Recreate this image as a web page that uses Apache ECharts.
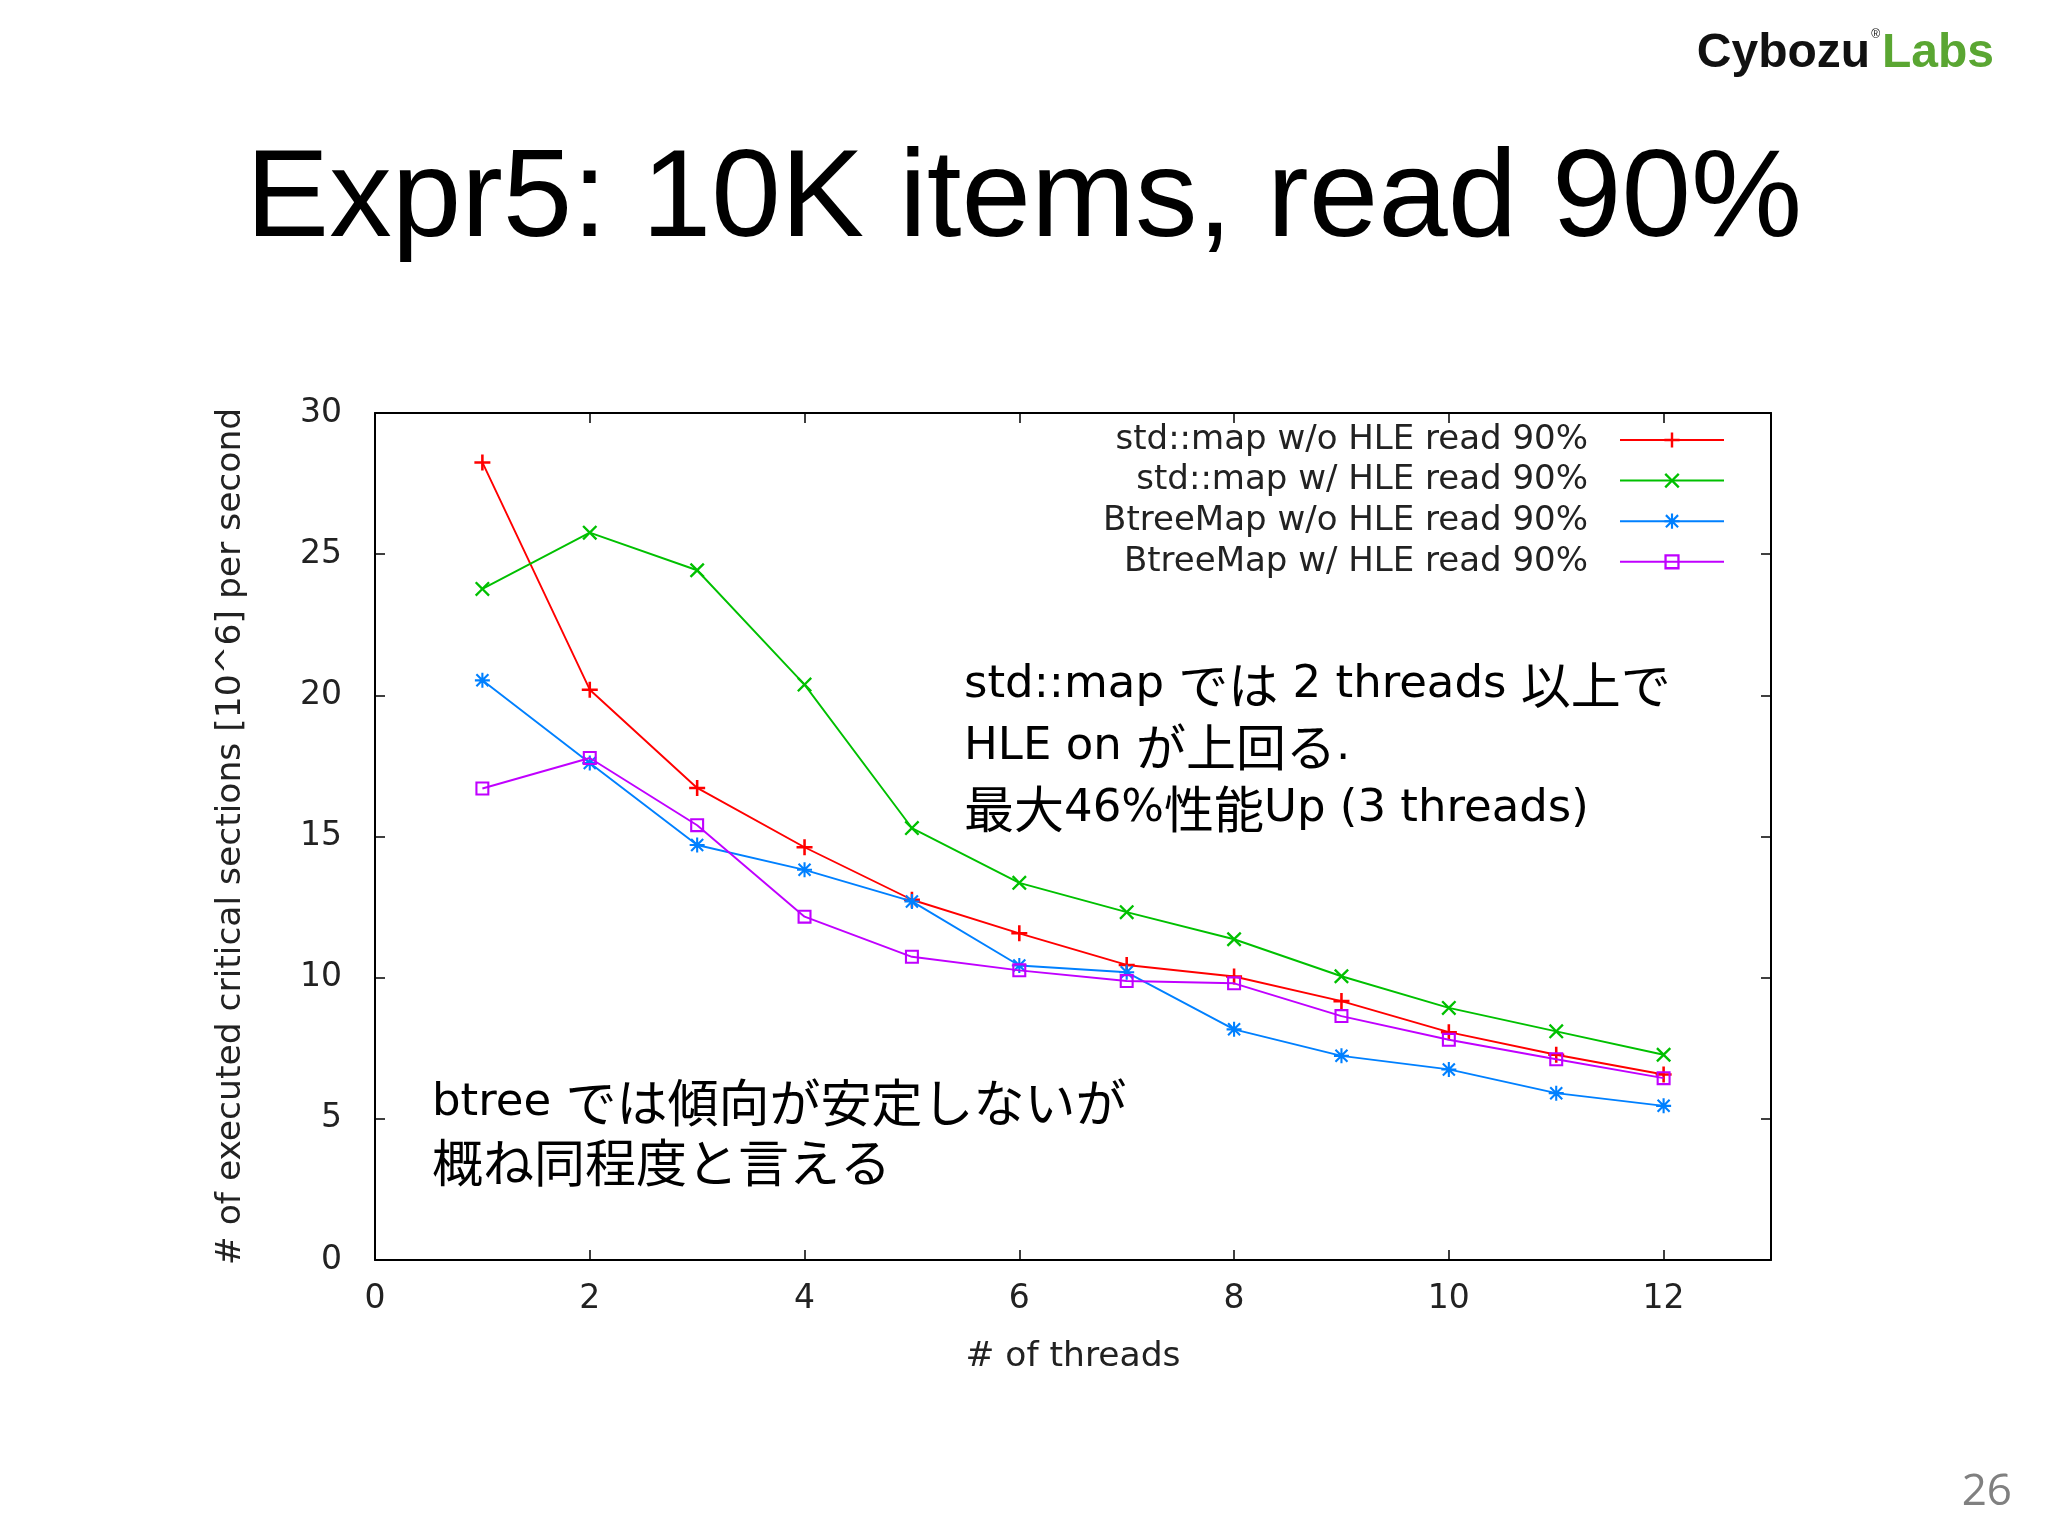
<!DOCTYPE html>
<html>
<head>
<meta charset="utf-8">
<script src="https://cdn.jsdelivr.net/npm/echarts@6/dist/echarts.min.js"></script>
<style>html,body{margin:0;padding:0;background:#fff}#main{width:2048px;height:1536px}</style>
</head>
<body>
<div id="main"></div>
<script>
// ---- data ----
const threads = [1, 2, 3, 4, 5, 6, 7, 8, 9, 10, 11, 12];
const seriesNames = [
  'std::map w/o HLE read 90%',
  'std::map w/ HLE read 90%',
  'BtreeMap w/o HLE read 90%',
  'BtreeMap w/ HLE read 90%'
];
const stdMapNoHLE = [28.25, 20.2, 16.72, 14.62, 12.76, 11.57, 10.45, 10.04, 9.17, 8.07, 7.27, 6.57];
const stdMapHLE   = [23.77, 25.76, 24.43, 20.38, 15.3, 13.36, 12.32, 11.36, 10.05, 8.93, 8.1, 7.27];
const btreeNoHLE  = [20.53, 17.6, 14.7, 13.82, 12.7, 10.43, 10.19, 8.17, 7.23, 6.75, 5.91, 5.46];
const btreeHLE    = [16.7, 17.78, 15.4, 12.16, 10.74, 10.26, 9.88, 9.8, 8.64, 7.8, 7.11, 6.44];
const xTickValues = [0, 2, 4, 6, 8, 10, 12];
const yTickValues = [0, 5, 10, 15, 20, 25, 30];
const titleText = 'Expr5: 10K items, read 90%';
const xAxisName = '# of threads';
const yAxisName = '# of executed critical sections [10^6] per second';
const note1 = 'std::map では 2 threads 以上で\nHLE on が上回る.\n最大46%性能Up (3 threads)';
const note2 = 'btree では傾向が安定しないが\n概ね同程度と言える';
const pageNumber = '26';

// ---- styling ----
const colors = ['#ff0000', '#00c000', '#0080ff', '#c000ff'];
const symbols = [
  'path://M4.2,0 L5.8,0 L5.8,4.2 L10,4.2 L10,5.8 L5.8,5.8 L5.8,10 L4.2,10 L4.2,5.8 L0,5.8 L0,4.2 L4.2,4.2 Z',
  'path://M0,1.1 L1.1,0 L5,3.9 L8.9,0 L10,1.1 L6.1,5 L10,8.9 L8.9,10 L5,6.1 L1.1,10 L0,8.9 L3.9,5 Z',
  'path://M4.3,0 L5.7,0 L5.7,4.3 L10,4.3 L10,5.7 L5.7,5.7 L5.7,10 L4.3,10 L4.3,5.7 L0,5.7 L0,4.3 L4.3,4.3 Z M0.5,1.5 L1.5,0.5 L5,4 L8.5,0.5 L9.5,1.5 L6,5 L9.5,8.5 L8.5,9.5 L5,6 L1.5,9.5 L0.5,8.5 L4,5 Z',
  'path://M0,0 L10,0 L10,10 L0,10 Z M1.5,1.5 L1.5,8.5 L8.5,8.5 L8.5,1.5 Z'
];
const symbolSizes = [16, 15, 15, 14];
const valueSets = [stdMapNoHLE, stdMapHLE, btreeNoHLE, btreeHLE];
const gnuFont = "'DejaVu Sans', sans-serif";
const latinFont = "'DejaVu Sans', 'Noto Sans CJK JP', sans-serif";
const cjkFont = "'Noto Sans CJK JP', sans-serif";
const logoFont = "'Liberation Sans', Arial, sans-serif";

// wrap CJK runs so they can get their own rich-text style
const richCJK = s => s.replace(/([\u3000-\u30ff\u3400-\u9fff\uff00-\uffef]+)/g, '{j|$1}');

const chart = echarts.init(document.getElementById('main'), null, {renderer: 'canvas'});

const axisLineStyle = {onZero: false, show: true, lineStyle: {color: '#000', width: 2}};
const tickStyle = {show: true, inside: true, length: 10, lineStyle: {color: '#000', width: 1.5}};

const option = {
  backgroundColor: '#ffffff',
  animation: false,
  title: {
    text: titleText,
    left: 'center',
    top: 132,
    padding: 0,
    textStyle: {fontFamily: logoFont, fontSize: 125, fontWeight: 'normal', color: '#000', lineHeight: 140}
  },
  grid: {left: 375, right: 277, top: 413, bottom: 276, containLabel: false},
  xAxis: [
    {
      type: 'value', min: 0, max: 13, interval: 2, position: 'bottom',
      name: xAxisName, nameLocation: 'middle', nameGap: 80,
      nameTextStyle: {fontFamily: gnuFont, fontSize: 34.5, color: '#222'},
      axisLine: axisLineStyle,
      axisTick: tickStyle,
      splitLine: {show: false},
      axisLabel: {
        margin: 23, fontFamily: gnuFont, fontSize: 33, color: '#222', showMaxLabel: false,
        formatter: v => (xTickValues.indexOf(v) >= 0 ? String(v) : '')
      }
    },
    {
      type: 'value', min: 0, max: 13, interval: 2, position: 'top',
      axisLine: axisLineStyle,
      axisTick: tickStyle,
      splitLine: {show: false},
      axisLabel: {show: false}
    }
  ],
  yAxis: [
    {
      type: 'value', min: 0, max: 30, interval: 5, position: 'left',
      name: yAxisName, nameLocation: 'middle', nameGap: 126, nameRotate: 90,
      nameTextStyle: {fontFamily: gnuFont, fontSize: 34.5, color: '#222'},
      axisLine: axisLineStyle,
      axisTick: tickStyle,
      splitLine: {show: false},
      axisLabel: {
        margin: 33, fontFamily: gnuFont, fontSize: 33, color: '#222',
        formatter: v => (yTickValues.indexOf(v) >= 0 ? String(v) : '')
      }
    },
    {
      type: 'value', min: 0, max: 30, interval: 5, position: 'right',
      axisLine: axisLineStyle,
      axisTick: tickStyle,
      splitLine: {show: false},
      axisLabel: {show: false}
    }
  ],
  legend: seriesNames.map((n, i) => ({
    data: [n],
    right: 323,
    top: 420 + i * 40.6,
    orient: 'horizontal',
    align: 'right',
    padding: 0,
    itemWidth: 104,
    itemHeight: 19,
    selectedMode: false,
    textStyle: {fontFamily: gnuFont, fontSize: 34, color: '#222', lineHeight: 40, padding: [0, 27, 0, 0]}
  })),
  series: seriesNames.map((n, i) => ({
    name: n,
    type: 'line',
    xAxisIndex: 0,
    yAxisIndex: 0,
    data: threads.map((t, k) => [t, valueSets[i][k]]),
    symbol: symbols[i],
    symbolSize: symbolSizes[i],
    showAllSymbol: true,
    color: colors[i],
    lineStyle: {color: colors[i], width: 1.9},
    itemStyle: {color: colors[i]},
    z: 2 + i
  })),
  graphic: [
    {
      type: 'text', left: 964, top: 654,
      style: {
        text: richCJK(note1), fontFamily: latinFont, fontSize: 45, lineHeight: 62, fill: '#000',
        rich: {j: {fontFamily: cjkFont, fontSize: 50, lineHeight: 62, fill: '#000'}}
      }
    },
    {
      type: 'text', left: 432, top: 1073,
      style: {
        text: richCJK(note2), fontFamily: latinFont, fontSize: 45, lineHeight: 60, fill: '#000',
        rich: {j: {fontFamily: cjkFont, fontSize: 51, lineHeight: 60, fill: '#000'}}
      }
    },
    {
      type: 'text', right: 54, top: 29,
      style: {
        text: '{a|Cybozu}{r|®}{b|Labs}',
        rich: {
          a: {fontFamily: logoFont, fontWeight: 'bold', fontSize: 48, lineHeight: 50, fill: '#111'},
          r: {fontFamily: logoFont, fontSize: 12, lineHeight: 50, fill: '#111', verticalAlign: 'top', padding: [0, 2, 22, 1]},
          b: {fontFamily: logoFont, fontWeight: 'bold', fontSize: 48, lineHeight: 50, fill: '#5aa632'}
        }
      }
    },
    {
      type: 'text', right: 36, top: 1467,
      style: {text: pageNumber, fontFamily: "'Open Sans', 'Noto Sans', sans-serif", fontSize: 44, lineHeight: 50, fill: '#808080'}
    }
  ]
};
chart.setOption(option);
</script>
</body>
</html>
